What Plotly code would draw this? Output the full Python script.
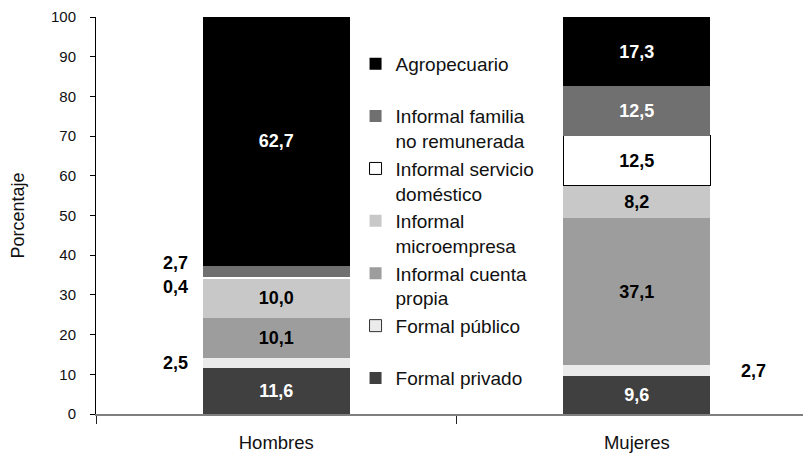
import plotly.graph_objects as go

# ---- data ----
groups = ["Hombres", "Mujeres"]
categories = [
    "Formal privado",
    "Formal público",
    "Informal cuenta propia",
    "Informal microempresa",
    "Informal servicio doméstico",
    "Informal familia no remunerada",
    "Agropecuario",
]
legend_labels = [
    "Formal privado<br> ",
    "Formal público<br> ",
    "Informal cuenta<br>propia",
    "Informal<br>microempresa",
    "Informal servicio<br>doméstico",
    "Informal familia<br>no remunerada",
    "Agropecuario<br> ",
]
hombres = [11.6, 2.5, 10.1, 10.0, 0.4, 2.7, 62.7]
mujeres = [9.6, 2.7, 37.1, 8.2, 12.5, 12.5, 17.3]
y_ticks = list(range(0, 101, 10))

# ---- styles ----
colors = ["#404040", "#ebebeb", "#9d9d9d", "#c8c8c8", "#ffffff", "#707070", "#000000"]
text_colors = ["white", "black", "black", "black", "black", "white", "white"]
bar_line_color = ["#404040", "#ebebeb", "#9d9d9d", "#c8c8c8", "#000000", "#707070", "#000000"]
bar_line_width = [[0, 0], [0, 0], [0, 0], [0, 0], [0, 1], [0, 0], [0, 0]]
legend_border = {"Formal público": "#333333", "Informal servicio doméstico": "#000000"}
small_threshold = 5
bar_w = 0.408
small_yshift = {("Hombres", "Informal familia no remunerada"): 8,
                ("Hombres", "Informal servicio doméstico"): -10}
FONT = "Liberation Sans, Arial, Helvetica, sans-serif"

x_pos = list(range(len(groups)))
series = [hombres, mujeres]
n = len(categories)


def fmt(v):
    return f"{v:.1f}".replace(".", ",")


fig = go.Figure()
for i, cat in enumerate(categories):
    vals = [s[i] for s in series]
    texts = [fmt(v) if v >= small_threshold else "" for v in vals]
    has_dummy = cat in legend_border
    fig.add_trace(go.Bar(
        x=x_pos, y=vals, name=legend_labels[i], width=bar_w,
        legendgroup=cat, legendrank=n - i, showlegend=not has_dummy,
        marker=dict(color=colors[i],
                    line=dict(color=bar_line_color[i], width=bar_line_width[i])),
        text=texts, textposition="inside", insidetextanchor="middle", textangle=0,
        textfont=dict(color=text_colors[i], size=18, family=FONT, weight="bold"),
        hoverinfo="skip",
    ))
    if has_dummy:
        fig.add_trace(go.Bar(
            x=[None], y=[None], name=legend_labels[i], legendgroup=cat, legendrank=n - i,
            marker=dict(color=colors[i], line=dict(color=legend_border[cat], width=1)),
            hoverinfo="skip",
        ))

# labels for the thin segments, outside the bars
annotations = []
for g, vals in enumerate(series):
    base = 0.0
    for i, v in enumerate(vals):
        if v < small_threshold:
            left = g == 0
            annotations.append(dict(
                x=x_pos[g] + (-bar_w / 2 if left else bar_w / 2), y=base + v / 2,
                xref="x", yref="y", text=fmt(v), showarrow=False,
                xanchor="right" if left else "left",
                xshift=-13 if left else 29,
                yshift=small_yshift.get((groups[g], categories[i]), 0),
                font=dict(size=18, family=FONT, color="black", weight="bold"),
            ))
        base += v

# the page body adds an 8px offset; the figure is sized to fill the rest of the window
fig.update_layout(
    width=803, height=447,
    margin=dict(l=88, r=0, t=9, b=41, autoexpand=False),
    paper_bgcolor="white", plot_bgcolor="white",
    barmode="stack",
    separators=",.",
    font=dict(family=FONT, color="#111111"),
    annotations=annotations,
    showlegend=True,
    legend=dict(x=0.363, y=0.93, xanchor="left", yanchor="top",
                font=dict(size=19, family=FONT, color="#111111"),
                traceorder="grouped", tracegroupgap=0, valign="top",
                bgcolor="rgba(0,0,0,0)"),
    xaxis=dict(range=[-0.5, 1.483], tickmode="array", tickvals=x_pos, ticktext=groups,
               ticks="", showline=True, linecolor="#7f7f7f", linewidth=1.5,
               showgrid=False, zeroline=False, automargin=False,
               tickfont=dict(size=18.5, family=FONT, color="#111111"),
               ticklabelstandoff=11,
               minor=dict(tickmode="array", tickvals=[-0.5, 0.5], ticks="outside", ticklen=8,
                          tickcolor="#222222", tickwidth=1, showgrid=False)),
    yaxis=dict(range=[0, 100], tickmode="array", tickvals=y_ticks, ticks="outside", ticklen=5,
               tickcolor="#000000", showline=True, linecolor="#000000", linewidth=1,
               showgrid=False, zeroline=False, automargin=False,
               tickfont=dict(size=15, family=FONT, color="#111111"), ticklabelstandoff=11,
               title=dict(text="Porcentaje", font=dict(size=18, family=FONT, color="#111111"),
                          standoff=23)),
)

fig.write_html("out.html")
